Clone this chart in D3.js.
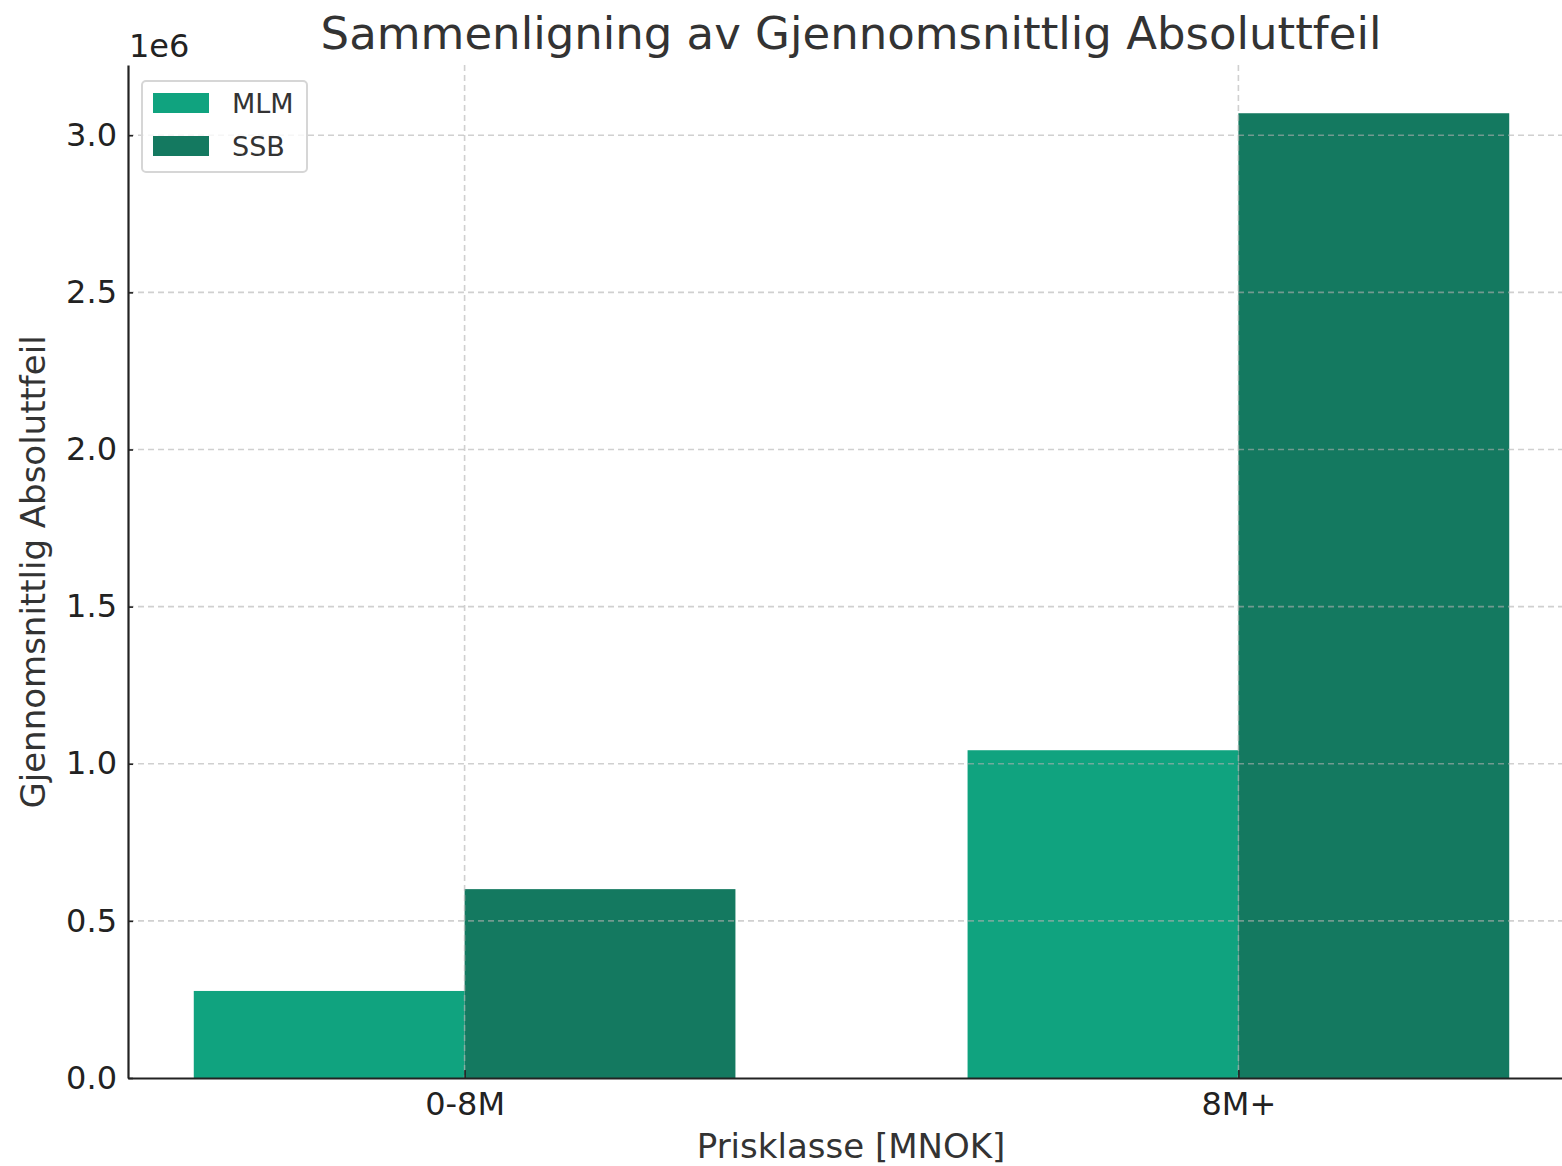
<!DOCTYPE html>
<html>
<head>
<meta charset="utf-8">
<script src="https://cdn.jsdelivr.net/npm/d3@7"></script>
<style>
  body { margin: 0; background: #fff; }
  text { font-family: "DejaVu Sans", sans-serif; }
</style>
</head>
<body>
<script>
// data
let categories = ['0-8M', '8M+'];
let seriesNames = ['MLM', 'SSB'];
let mlmValues = [277000, 1043000];
let ssbValues = [601000, 3070000];
let yTicks = [0, 0.5e6, 1.0e6, 1.5e6, 2.0e6, 2.5e6, 3.0e6];
let colors = ['#10a37f', '#147960'];

let width = 1562, height = 1166;
let plotLeft = 128, plotBottom = 1078, plotTop = 65;
let barW = 0.35;

let svg = d3.select('body').append('svg').attr('width', width).attr('height', height);

// x in category units, axes run past the right edge of the picture
let x = d3.scaleLinear().domain([-0.435, 1.435]).range([plotLeft, 1575]);
let y = d3.scaleLinear().domain([0, 3.2235e6]).range([plotBottom, plotTop]);

let seriesValues = [mlmValues, ssbValues];
let bars = [];
seriesValues.forEach(function(vals, s) {
  vals.forEach(function(v, i) {
    bars.push({s: s, i: i, v: v});
  });
});

svg.selectAll('rect.bar').data(bars).enter().append('rect')
  .attr('class', 'bar')
  .attr('x', function(d) { return d.s === 0 ? x(d.i - barW) : x(d.i); })
  .attr('width', x(barW) - x(0))
  .attr('y', function(d) { return y(d.v); })
  .attr('height', function(d) { return plotBottom - y(d.v); })
  .attr('fill', function(d) { return colors[d.s]; });

// grid on top of bars
let grid = svg.append('g').attr('stroke', '#b0b0b0').attr('stroke-opacity', 0.6)
  .attr('stroke-width', 1.6).attr('stroke-dasharray', '6,4');
grid.selectAll('line.h').data(yTicks.slice(1)).enter().append('line')
  .attr('x1', plotLeft).attr('x2', width)
  .attr('y1', function(d) { return y(d); }).attr('y2', function(d) { return y(d); });
grid.selectAll('line.v').data(categories).enter().append('line')
  .attr('x1', function(d, i) { return x(i); }).attr('x2', function(d, i) { return x(i); })
  .attr('y1', plotTop).attr('y2', plotBottom);

// axes
let yAxis = d3.axisLeft(y).tickValues(yTicks).tickSizeInner(-5).tickSizeOuter(0).tickPadding(11)
  .tickFormat(function(d) { return (d / 1e6).toFixed(1); });
let gy = svg.append('g').attr('transform', 'translate(' + plotLeft + ',0)').call(yAxis);
gy.select('.domain').attr('stroke', '#222').attr('stroke-width', 2.2);
gy.selectAll('.tick line').attr('stroke', '#222').attr('stroke-width', 1.6);
gy.selectAll('.tick text').attr('font-size', '32px').attr('fill', '#222')
  .attr('font-family', 'DejaVu Sans');

let xAxis = d3.axisBottom(x).tickValues([0, 1]).tickSizeInner(-8).tickSizeOuter(0).tickPadding(14)
  .tickFormat(function(d) { return categories[d]; });
let gx = svg.append('g').attr('transform', 'translate(0,' + plotBottom + ')').call(xAxis);
gx.select('.domain').attr('stroke', '#222').attr('stroke-width', 2.2);
gx.selectAll('.tick line').attr('stroke', '#222').attr('stroke-width', 1.6);
gx.selectAll('.tick text').attr('font-size', '32px').attr('fill', '#222')
  .attr('font-family', 'DejaVu Sans');

// offset text
svg.append('text').attr('x', 129).attr('y', 57).attr('font-size', '32px').attr('fill', '#222').text('1e6');

// title and labels
svg.append('text').attr('x', 851).attr('y', 49).attr('text-anchor', 'middle')
  .attr('font-size', '45px').attr('fill', '#333').text('Sammenligning av Gjennomsnittlig Absoluttfeil');
svg.append('text').attr('x', 851).attr('y', 1158).attr('text-anchor', 'middle')
  .attr('font-size', '34px').attr('fill', '#333').text('Prisklasse [MNOK]');
svg.append('text').attr('transform', 'translate(45,572) rotate(-90)').attr('text-anchor', 'middle')
  .attr('font-size', '34px').attr('fill', '#333').text('Gjennomsnittlig Absoluttfeil');

// legend
let legend = svg.append('g');
legend.append('rect').attr('x', 142).attr('y', 81).attr('width', 165).attr('height', 91).attr('rx', 4)
  .attr('fill', '#fff').attr('fill-opacity', 0.8).attr('stroke', '#d6d6d6').attr('stroke-width', 2);
let items = legend.selectAll('g.item').data(seriesNames).enter().append('g')
  .attr('transform', function(d, i) { return 'translate(0,' + (i * 43) + ')'; });
items.append('rect').attr('x', 153).attr('y', 93).attr('width', 56).attr('height', 20)
  .attr('fill', function(d, i) { return colors[i]; });
items.append('text').attr('x', 232).attr('y', 113).attr('font-size', '27px').attr('fill', '#333')
  .text(function(d) { return d; });
</script>
</body>
</html>
